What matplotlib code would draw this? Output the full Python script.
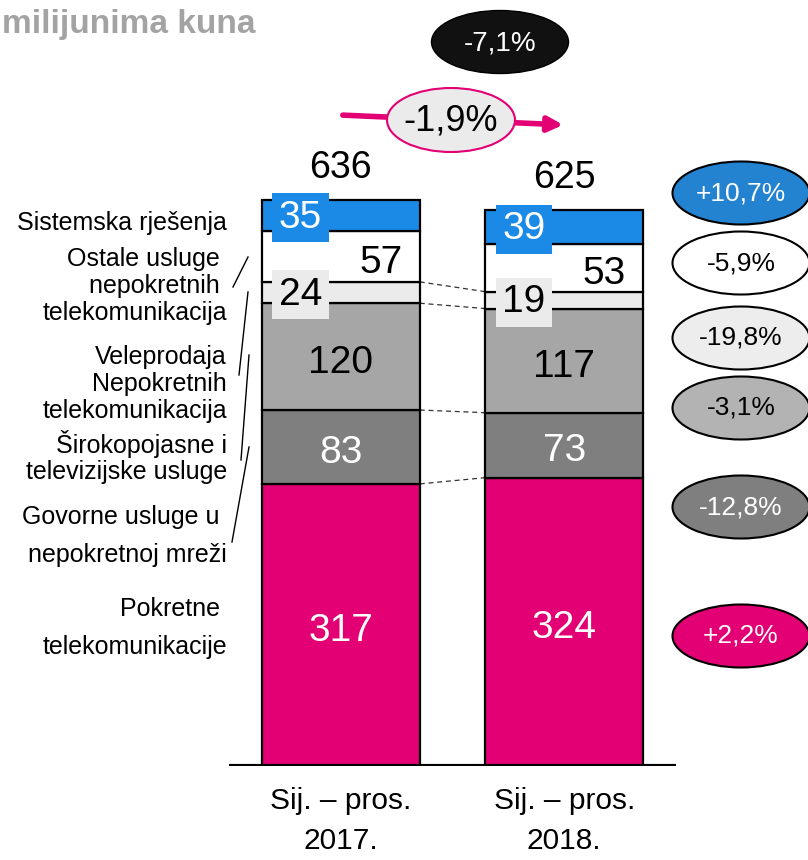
import numpy as np
import matplotlib
matplotlib.use("Agg")
import matplotlib.pyplot as plt
from matplotlib.patches import Ellipse

plt.rcParams['font.family'] = ['Liberation Sans', 'DejaVu Sans']

# data (bottom to top in each bar)
categories = ["Sij. – pros.\n2017.", "Sij. – pros.\n2018."]
segments = [
    "Pokretne \ntelekomunikacije",
    "Govorne usluge u \nnepokretnoj mreži",
    "Širokopojasne i\ntelevizijske usluge",
    "Veleprodaja\nNepokretnih\ntelekomunikacija",
    "Ostale usluge \nnepokretnih \ntelekomunikacija",
    "Sistemska rješenja",
]
values_2017 = [317, 83, 120, 24, 57, 35]
values_2018 = [324, 73, 117, 19, 53, 39]
totals = [636, 625]
changes = ["+2,2%", "-12,8%", "-3,1%", "-19,8%", "-5,9%", "+10,7%"]
total_change = "-1,9%"
other_change = "-7,1%"

magenta = "#E20074"
bar_colors = [magenta, "#7F7F7F", "#A6A6A6", "#EBEBEB", "white", "#1A8AE6"]
text_colors = ["white", "white", "black", "black", "black", "white"]
label_dx = [0, 0, 0, -0.18, 0.18, -0.18]
label_box = [None, None, None, "#EBEBEB", None, "#1A8AE6"]
ell_colors = [magenta, "#7F7F7F", "#B3B3B3", "#EDEDED", "white", "#2383D0"]
ell_text = ["white", "white", "black", "black", "black", "white"]
ell_y = [636, 507, 408, 338, 263, 193]
label_y = [628, 536, 457, 384, 286, 223]
label_ls = [1.75, 1.75, 1.15, 1.15, 1.15, 1.0]

W, H = 808, 860
fig = plt.figure(figsize=(W / 100, H / 100), dpi=100)

# pixel overlay for annotations
ov = fig.add_axes([0, 0, 1, 1])
ov.set_xlim(0, W)
ov.set_ylim(H, 0)
ov.axis("off")

ymax = 700
px_per_unit = 566 / 636
ax = fig.add_axes([229 / W, (H - 766) / H, 447 / W, ymax * px_per_unit / H])
ax.set_facecolor("none")
ax.set_xlim(-0.5, 1.5)
ax.set_ylim(0, ymax)
for s in ax.spines.values():
    s.set_visible(False)
ax.set_yticks([])

x = np.arange(len(categories))
width = 0.707
vals = np.array([values_2017, values_2018])
bottoms = np.cumsum(vals, axis=1) - vals

for k in range(len(segments)):
    ax.bar(x, vals[:, k], bottom=bottoms[:, k], width=width, color=bar_colors[k],
           edgecolor="black", linewidth=1.6, zorder=2)
    for i in range(len(x)):
        box = None
        dy = -4.5
        if label_box[k]:
            box = dict(boxstyle="square,pad=0.17", fc=label_box[k], ec="none")
            dy = -1.5
        ax.annotate(str(vals[i, k]), (x[i] + label_dx[k], bottoms[i, k] + vals[i, k] / 2),
                    xytext=(0, dy), textcoords="offset points",
                    ha="center", va="center", fontsize=28, color=text_colors[k],
                    bbox=box, zorder=4, annotation_clip=False)

# dashed connectors between bars
cum = np.cumsum(vals, axis=1)
for k in range(4):
    ax.plot([x[0] + width / 2, x[1] - width / 2], [cum[0, k], cum[1, k]],
            ls=(0, (4, 3)), color="#333333", lw=0.9, zorder=1)

for i in range(len(x)):
    ax.annotate(str(totals[i]), (x[i], totals[i]), xytext=(0, 23),
                textcoords="offset points", ha="center", va="center", fontsize=27)

ax.axhline(0, color="black", lw=3, zorder=3)
ax.set_xticks(x, categories, fontsize=21.5, linespacing=1.55)
ax.tick_params(axis="x", length=0, pad=15)

# left labels and leader lines
for k in range(len(segments)):
    ov.text(227, label_y[k], segments[k], ha="right", va="center", ma="right",
            fontsize=18, linespacing=label_ls[k])
leaders = [((233, 287), (248, 257)), ((239, 375), (248, 292)),
           ((241, 460), (249, 355)), ((232, 542), (249, 447))]
for (x0, y0), (x1, y1) in leaders:
    ov.plot([x0, x1], [y0, y1], color="black", lw=1)

# change bubbles on the right
for k in range(len(changes)):
    ov.add_patch(Ellipse((741, ell_y[k]), 137, 63, fc=ell_colors[k], ec="black", lw=1.5))
    ov.text(741, ell_y[k], changes[k], ha="center", va="center", fontsize=19,
            color=ell_text[k])

# total change arrow and bubbles
ov.annotate("", xy=(566, 125), xytext=(340, 115),
            arrowprops=dict(arrowstyle="-|>", color=magenta, lw=4, mutation_scale=22))
ov.add_patch(Ellipse((451, 120), 128, 64, fc="#EBEBEB", ec=magenta, lw=1.5, zorder=3))
ov.text(451, 121, total_change, ha="center", va="center", fontsize=26, zorder=4)
ov.add_patch(Ellipse((500, 42), 137, 63, fc="#111111", ec="black", lw=1))
ov.text(500, 43, other_change, ha="center", va="center", fontsize=20, color="white")

ov.text(256, 24, "milijunima kuna", ha="right", va="center", fontsize=24,
        fontweight="bold", color="#A3A3A3")

fig.savefig("out.png", dpi=100)
